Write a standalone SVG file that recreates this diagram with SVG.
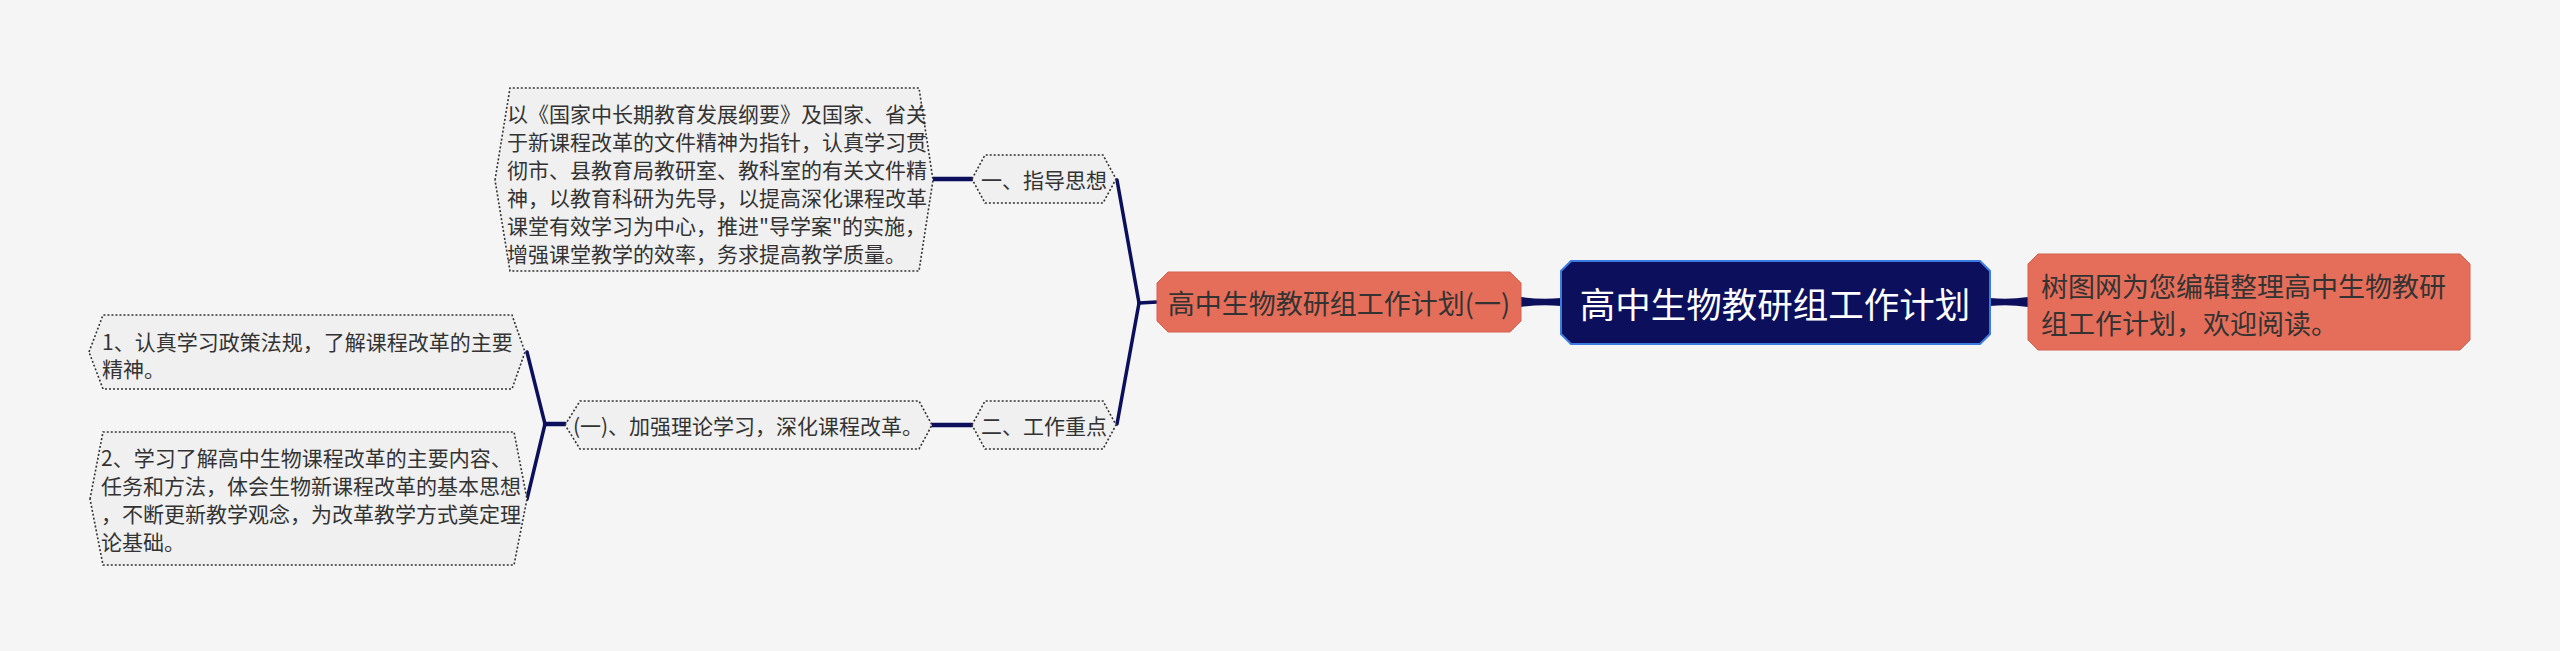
<svg xmlns="http://www.w3.org/2000/svg" width="2560" height="651" viewBox="0 0 2560 651">
<style>
text{font-family:"Noto Sans CJK SC","Microsoft YaHei",sans-serif;fill:#333333;}
.sub{fill:#f0f0f0;stroke:#333333;stroke-width:1.6;stroke-dasharray:2 2;}
.s21{font-size:21px;}
.mid{text-anchor:middle;dominant-baseline:central;}
.lft{dominant-baseline:central;}
.ln{fill:none;stroke:#0b0f5c;stroke-width:3.5;stroke-linecap:round;}
.taper{fill:#0b0f5c;}
</style>
<rect x="0" y="0" width="2560" height="651" fill="#f5f5f5"/>
<g id="connectors">
<path class="taper" d="M1521,297 Q1541,300 1561,298 L1561,306 Q1541,304 1521,307 Z"/>
<path class="taper" d="M1990,298 Q2009,300 2028,297 L2028,307 Q2009,304 1990,306 Z"/>
<path class="ln" d="M1157,302 L1139,303"/>
<path class="ln" d="M1139,303 L1117,180"/>
<path class="ln" d="M1139,303 L1117,424"/>
<path class="ln" d="M972,179 L933,179" style="stroke-width:4.5"/>
<path class="ln" d="M972,425 L932,425" style="stroke-width:4.5"/>
<path class="ln" d="M565,424 L545,424" style="stroke-width:4.5"/>
<path class="ln" d="M545,424 L527,352"/>
<path class="ln" d="M545,424 L527,499"/>
</g>
<g id="root">
<path d="M1571,261 L1980,261 L1990,271 L1990,334 L1980,344 L1571,344 L1561,334 L1561,271 Z" fill="#0b0f5c" stroke="#3c7be0" stroke-width="2"/>
<text class="mid" x="1775" y="302" style="font-size:35.5px;fill:#ffffff">高中生物教研组工作计划</text>
</g>
<g id="intro">
<path d="M2038,254 L2460,254 L2470,264 L2470,340 L2460,350 L2038,350 L2028,340 L2028,264 Z" fill="#e56e5a" stroke="#d4604e" stroke-width="1"/>
<text class="lft" x="2041" y="285" style="font-size:27px">树图网为您编辑整理高中生物教研</text>
<text class="lft" x="2041" y="322" style="font-size:27px">组工作计划，欢迎阅读。</text>
</g>
<g id="plan1">
<path d="M1168,272 L1510,272 L1521,283 L1521,321 L1510,332 L1168,332 L1157,321 L1157,283 Z" fill="#e56e5a" stroke="#d4604e" stroke-width="1"/>
<text class="mid" x="1339" y="302" style="font-size:27px">高中生物教研组工作计划(一)</text>
</g>
<g id="guide">
<path class="sub" d="M972,179 L985,155 L1103,155 L1116,179 L1103,203 L985,203 Z"/>
<text class="mid s21" x="1044" y="179">一、指导思想</text>
</g>
<g id="guide-text">
<path class="sub" d="M495,180 L510,88 L919,88 L933,180 L919,271 L510,271 Z"/>
<text class="lft s21" x="507" y="113">以《国家中长期教育发展纲要》及国家、省关</text>
<text class="lft s21" x="507" y="141">于新课程改革的文件精神为指针，认真学习贯</text>
<text class="lft s21" x="507" y="169">彻市、县教育局教研室、教科室的有关文件精</text>
<text class="lft s21" x="507" y="197">神，以教育科研为先导，以提高深化课程改革</text>
<text class="lft s21" x="507" y="225">课堂有效学习为中心，推进"导学案"的实施，</text>
<text class="lft s21" x="507" y="253">增强课堂教学的效率，务求提高教学质量。</text>
</g>
<g id="focus">
<path class="sub" d="M972,425 L985,401 L1103,401 L1116,425 L1103,449 L985,449 Z"/>
<text class="mid s21" x="1044" y="425">二、工作重点</text>
</g>
<g id="theory">
<path class="sub" d="M565,425 L580,401 L919,401 L932,425 L919,449 L580,449 Z"/>
<text class="mid s21" x="748" y="425">(一)、加强理论学习，深化课程改革。</text>
</g>
<g id="item1">
<path class="sub" d="M89,352 L103,315 L512,315 L525,352 L512,389 L103,389 Z"/>
<text class="lft s21" x="102" y="341">1、认真学习政策法规，了解课程改革的主要</text>
<text class="lft s21" x="102" y="368">精神。</text>
</g>
<g id="item2">
<path class="sub" d="M90,499 L103,432 L514,432 L527,499 L514,565 L103,565 Z"/>
<text class="lft s21" x="101" y="457">2、学习了解高中生物课程改革的主要内容、</text>
<text class="lft s21" x="101" y="485">任务和方法，体会生物新课程改革的基本思想</text>
<text class="lft s21" x="101" y="513">，不断更新教学观念，为改革教学方式奠定理</text>
<text class="lft s21" x="101" y="541">论基础。</text>
</g>
</svg>
